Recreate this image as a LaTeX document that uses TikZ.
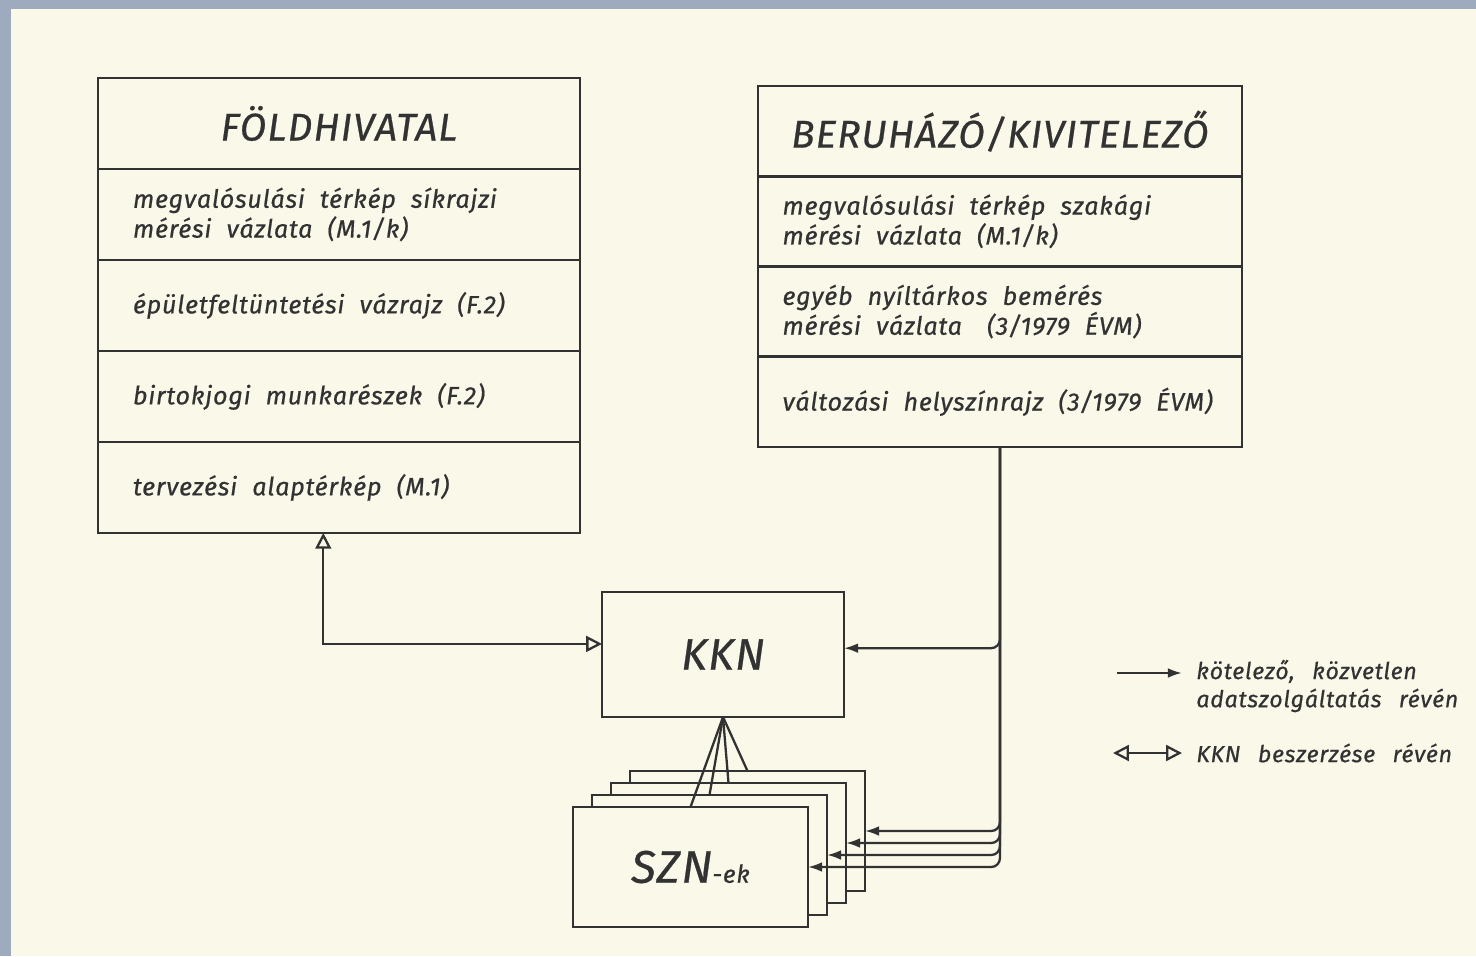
\documentclass[tikz,border=0pt]{standalone}
\usepackage{fontspec}
\setmainfont{Fira Sans}
\newfontfamily\lettering{Fira Sans}[LetterSpace=3,WordSpace=2.6,FakeBold=0.6]
\usepackage{tikz}
\usetikzlibrary{positioning,arrows.meta}
\setlength{\parindent}{0pt}
\hfuzz=2cm

\definecolor{paper}{RGB}{250,248,233}
\definecolor{ink}{RGB}{50,50,50}
\definecolor{scanedge}{RGB}{158,170,190}

\begin{document}
\begin{tikzpicture}[x=0.02cm,y=-0.02cm,
   font=\lettering\itshape,
   box/.style={draw=ink,line width=1.5pt,fill=paper,inner sep=0pt,outer sep=0pt,text=ink},
   head/.style={box,minimum width=9.64cm,minimum height=1.82cm,font=\lettering\itshape\fontsize{22}{25}\selectfont},
   row/.style={box,minimum width=9.64cm,minimum height=1.82cm,text width=8.24cm,align=left,
      font=\lettering\itshape\fontsize{14.3}{17}\selectfont,
      execute at begin node={\spaceskip=0.6em plus 0.1em\relax\xspaceskip=0.6em\relax}},
   bhead/.style={head,minimum width=9.68cm,minimum height=1.805cm},
   brow/.style={row,minimum width=9.68cm,minimum height=1.805cm,text width=8.7cm},
   layer/.style={box,minimum width=4.7cm,minimum height=2.4cm},
   legend/.style={text=ink,inner sep=0pt,align=left,font=\lettering\itshape\fontsize{13.2}{16}\selectfont},
   to/.style={-{Latex[length=8pt,width=5.5pt]},draw=ink,line width=1.3pt,rounded corners=5pt},
   both/.style={{Triangle[open,length=9pt,width=9pt]}-{Triangle[open,length=9pt,width=9pt]},draw=ink,line width=1.3pt},
   link/.style={draw=ink,line width=1.3pt}]
% paper
\fill[scanedge] (0,0) rectangle (1476,956);
\fill[paper] (11,9) rectangle (1476,956);
\useasboundingbox (0,0) rectangle (1476,956);

% foldhivatal
\node[head,anchor=north west] (fold) at (98,78) {FÖLDHIVATAL};
\node[row,below=0pt of fold] (fold1) {megvalósulási térkép síkrajzi\\mérési vázlata (M.1/k)};
\node[row,below=0pt of fold1] (fold2) {épületfeltüntetési vázrajz (F.2)};
\node[row,below=0pt of fold2] (fold3) {birtokjogi munkarészek (F.2)};
\node[row,below=0pt of fold3] (fold4) {tervezési alaptérkép (M.1)};

% beruhazo
\node[bhead,anchor=north west] (beru) at (758,86) {BERUHÁZÓ/KIVITELEZŐ};
\node[brow,below=0pt of beru] (beru1) {megvalósulási térkép szakági\\mérési vázlata (M.1/k)};
\node[brow,below=0pt of beru1] (beru2) {egyéb nyíltárkos bemérés\\mérési vázlata\quad(3/1979 ÉVM)};
\node[brow,below=0pt of beru2] (beru3) {\mbox{változási helyszínrajz (3/1979 ÉVM)}};

% kkn and szn
\node[box,minimum width=4.84cm,minimum height=2.5cm,font=\lettering\itshape\fontsize{25}{30}\selectfont] (kkn) at (723,654.5) {KKN\hspace{0.6cm}};
\node[layer] (szn3) at (747.5,831) {};
\node[layer] (szn2) at (728.5,843) {};
\node[layer] (szn1) at (709.5,855) {};
\node[layer,font=\lettering\itshape\fontsize{26}{30}\selectfont] (szn) at (690.5,867) {SZN{\fontsize{14}{16}\selectfont-ek}};

% connectors
\draw[both] (fold4.251) |- (kkn.175);
\draw[to] (beru3.south) |- (kkn.3);
\draw[to] (beru3.south) |- (szn3.east);
\draw[to] (beru3.south) |- (szn2.east);
\draw[to] (beru3.south) |- (szn1.east);
\draw[to] (beru3.south) |- (szn.east);
\draw[link] (kkn.south) -- (szn.north);
\draw[link] (kkn.south) -- (szn1.north);
\draw[link] (kkn.south) -- (szn2.north);
\draw[link] (kkn.south) -- (szn3.north);

% legend
\coordinate (l1a) at (1117,673);
\coordinate (l1b) at (1182,673);
\draw[to] (l1a) -- (l1b);
\node[legend,anchor=west] (leg1) at (1196,686) {kötelező, közvetlen\\adatszolgáltatás révén};
\coordinate (l2a) at (1113,753);
\coordinate (l2b) at (1182,753);
\draw[both] (l2a) -- (l2b);
\node[legend,anchor=west] (leg2) at (1196,753) {KKN beszerzése révén};
\end{tikzpicture}
\end{document}
